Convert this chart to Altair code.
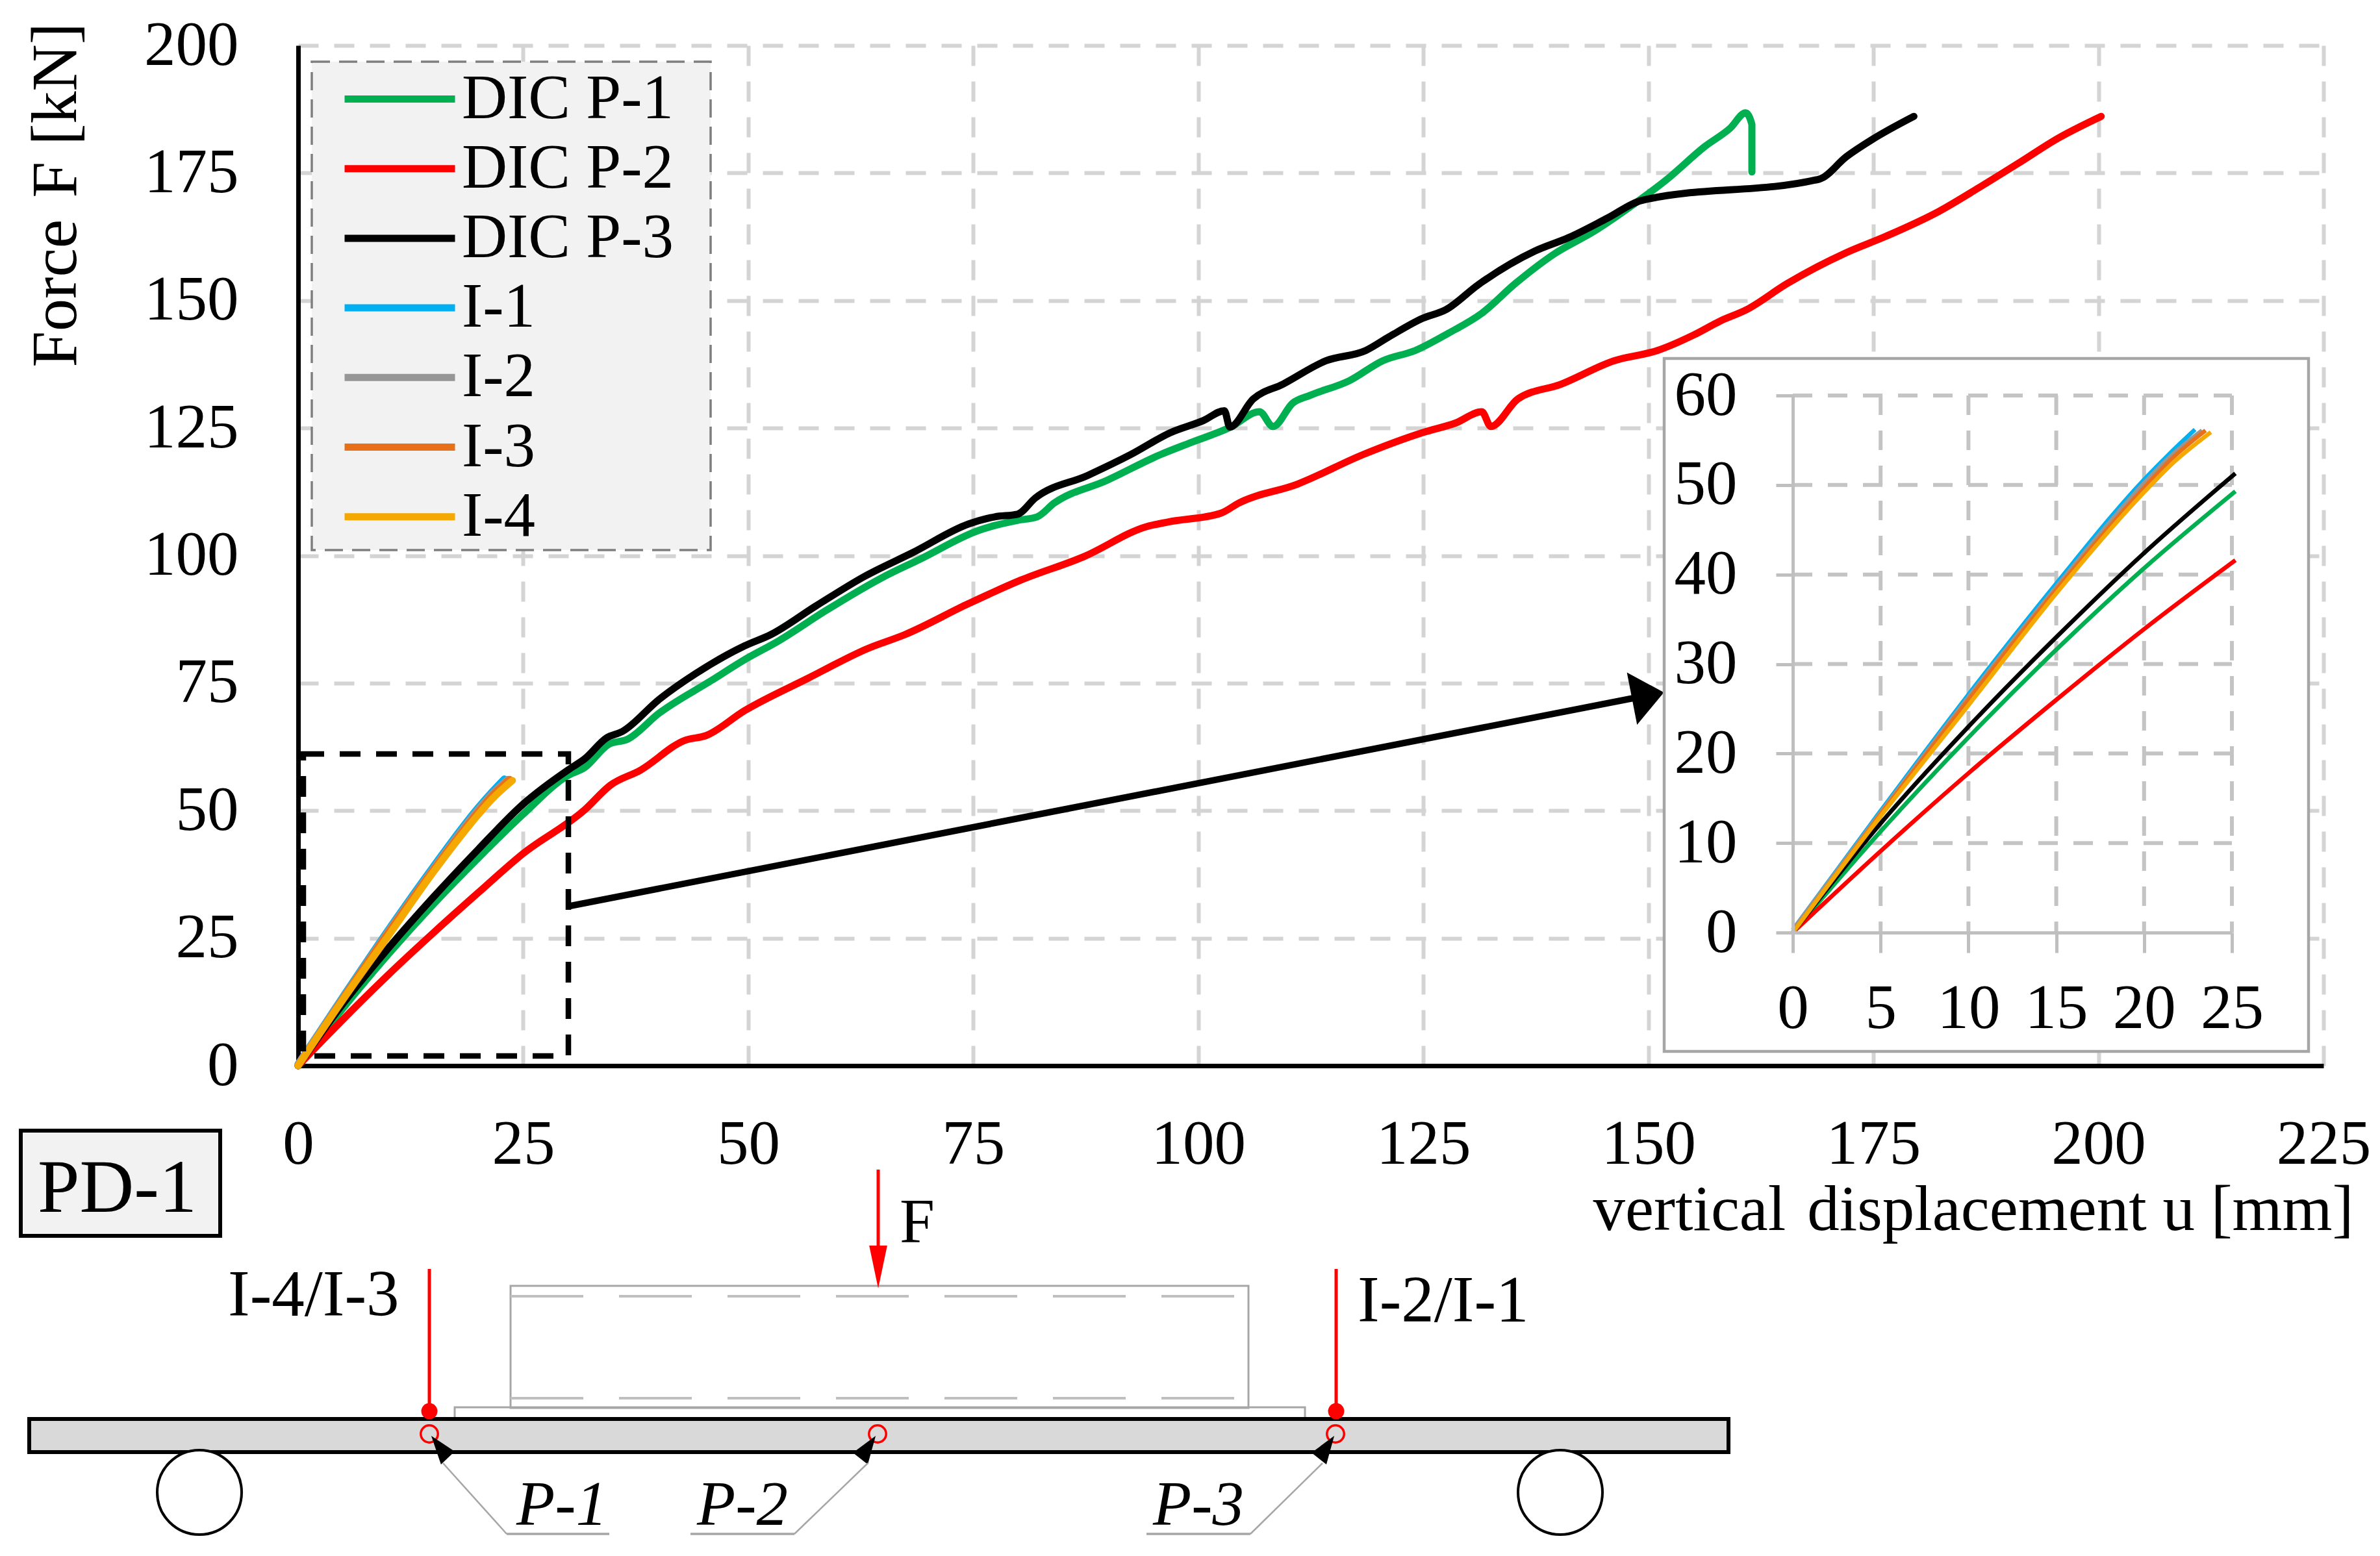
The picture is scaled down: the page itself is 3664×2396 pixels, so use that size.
import altair as alt
import pandas as pd

# ---------- chart values ----------
series = ["DIC P-1", "DIC P-2", "DIC P-3", "I-1", "I-2", "I-3", "I-4"]
colors = ["#00b050", "#ff0000", "#000000", "#00b0f0", "#969696", "#e8701a", "#f5a800"]

p1_x = [0, 5, 10, 15, 20, 25, 30, 31.8, 34.5, 36.6, 40.1, 45.9, 49.6, 53.4, 58.7, 64.9, 69.1, 75.7, 77.4, 79.9, 82.1, 84, 89.8, 95.8, 99.1, 103.5, 106.8, 108.3, 110.5, 112.4, 116.8, 120.5, 124.1, 127.8, 131.5, 135.2, 139.6, 144, 148.4, 152.1, 156.2, 159.1, 160.8, 161.5, 161.5]
p1_y = [0, 11.3, 21.8, 31.6, 40.7, 49.3, 56.9, 58.4, 63, 64, 69.1, 75.5, 79.6, 83.3, 89.3, 95.7, 99.3, 105, 105.9, 106.9, 107.6, 110.3, 114.7, 119.8, 122.1, 125.1, 128.2, 125.3, 129.9, 131.4, 134.3, 138.2, 140.2, 143.6, 147.5, 153.3, 159.2, 163.6, 168.9, 173.8, 180.1, 183.8, 186.8, 184.5, 175.2]
p2_x = [0, 5, 10, 15, 20, 25, 31.8, 34.7, 38, 43, 45.3, 49.6, 56.7, 63.3, 67.4, 74.5, 80.3, 87.3, 94.3, 96.7, 102.5, 104.5, 111, 118.3, 124.9, 128.6, 131.5, 132.5, 135.5, 140.3, 146.2, 151, 155.1, 158, 160.9, 165.4, 172, 176.4, 182.3, 186.7, 191.1, 195.5, 200.3]
p2_y = [0, 9.1, 17.8, 26, 33.9, 41.6, 50.1, 55, 57.9, 63.8, 64.7, 69.6, 76, 81.8, 84.5, 90.6, 95.2, 99.8, 105.7, 106.6, 108.3, 110.3, 114, 119.8, 124.1, 126, 128.2, 125.3, 130.7, 133.6, 138.2, 140.2, 143.3, 146, 148.2, 153.3, 159.4, 162.6, 167.5, 172.1, 176.9, 181.8, 186.1]
p3_x = [0, 5, 10, 15, 20, 25, 30, 31.8, 34.3, 36, 40.1, 44.2, 49.6, 52.5, 57.5, 62.9, 68.3, 74.5, 77.4, 79.9, 81.9, 87.7, 92.5, 96.9, 100.6, 102.9, 103.5, 106.1, 109.4, 114.2, 118.6, 121.2, 124.9, 127.5, 131.1, 137.4, 141.1, 145.5, 149.2, 169, 172, 174.9, 179.5]
p3_y = [0, 12.2, 23, 33, 42.4, 51.3, 58, 60.1, 64.3, 65.5, 71.8, 76.9, 82.3, 84.5, 90.1, 95.9, 100.6, 106.2, 107.6, 108.1, 111.3, 115.7, 119.8, 124.1, 126.5, 128.4, 125.2, 130.7, 133.6, 138.2, 140.2, 142.9, 146.5, 148.2, 153.1, 159.7, 162.3, 166.2, 169.6, 173.8, 178.2, 181.6, 186.1]
i1_x = [0, 5, 10, 15, 20, 21.5, 22.9]
i1_y = [0.3, 13.6, 26.6, 39, 50.6, 53.6, 56.2]
i2_x = [0, 5, 10, 15, 20, 21.5, 23.3]
i2_y = [0.3, 13.4, 26.3, 38.6, 50.2, 53.2, 56.1]
i3_x = [0, 5, 10, 15, 20, 21.5, 23.5]
i3_y = [0, 13.2, 26, 38.3, 49.7, 52.8, 56.1]
i4_x = [0, 5, 10, 15, 20, 21.5, 23.8]
i4_y = [0, 13, 25.4, 37.9, 49.2, 52.2, 55.9]

# inset readings (ends where the inset's lines stop)
ip1_x = [0, 5, 10, 15, 20, 25.2]
ip1_y = [0, 11.3, 21.8, 31.6, 40.7, 49.3]
ip2_x = [0, 5, 10, 15, 20, 25.2]
ip2_y = [0, 9.1, 17.8, 26, 33.9, 41.6]
ip3_x = [0, 5, 10, 15, 20, 25.2]
ip3_y = [0, 12.2, 23, 33, 42.4, 51.3]

main_ticks_x = list(range(0, 226, 25))
main_ticks_y = list(range(0, 201, 25))
inset_ticks_x = [0, 5, 10, 15, 20, 25]
inset_ticks_y = [0, 10, 20, 30, 40, 50, 60]

FONT = "Liberation Serif"
FS = 97

# ---------- frame in image pixels ----------
L, T, W, H = 459, 70, 3118, 1571
def px(v): return v - L
def py(v): return v - T

def table(groups):
    rows = []
    for name, xs, ys in groups:
        for i, (a, b) in enumerate(zip(xs, ys)):
            rows.append({"series": name, "x": a, "y": b, "ord": i})
    return pd.DataFrame(rows)

main_df = table(zip(series, [p1_x, p2_x, p3_x, i1_x, i2_x, i3_x, i4_x],
                    [p1_y, p2_y, p3_y, i1_y, i2_y, i3_y, i4_y]))
inset_df = table(zip(series, [ip1_x, ip2_x, ip3_x, i1_x, i2_x, i3_x, i4_x],
                     [ip1_y, ip2_y, ip3_y, i1_y, i2_y, i3_y, i4_y]))

def rule(x1, y1, x2, y2, color="#000000", w=5, dash=None):
    kw = dict(color=color, strokeWidth=w)
    if dash:
        kw["strokeDash"] = dash
    return alt.Chart().mark_rule(**kw).encode(
        x=alt.value(px(x1)), y=alt.value(py(y1)), x2=alt.value(px(x2)), y2=alt.value(py(y2)))

def box(x1, y1, x2, y2, fill=None, stroke=None, w=0, dash=None):
    kw = dict(strokeWidth=w)
    kw["fill"] = fill if fill else "transparent"
    if stroke:
        kw["stroke"] = stroke
    if dash:
        kw["strokeDash"] = dash
    return alt.Chart().mark_rect(**kw).encode(
        x=alt.value(px(x1)), y=alt.value(py(y1)), x2=alt.value(px(x2)), y2=alt.value(py(y2)))

def label(x, y, s, size=FS, style="normal"):
    return alt.Chart().mark_text(font=FONT, fontSize=size, fontStyle=style, color="#000000",
                                 align="left", baseline="alphabetic").encode(
        x=alt.value(px(x)), y=alt.value(py(y)), text=alt.value(s))

def dot(x, y, size, shape="circle", fill=None, stroke=None, w=0, angle=0):
    kw = dict(shape=shape, size=size, strokeWidth=w, opacity=1, angle=angle)
    kw["filled"] = bool(fill)
    if fill:
        kw["fill"] = fill
    if stroke:
        kw["stroke"] = stroke
    return alt.Chart().mark_point(**kw).encode(x=alt.value(px(x)), y=alt.value(py(y)))

color_enc = alt.Color("series:N", scale=alt.Scale(domain=series, range=colors), legend=alt.Legend(
    orient="none", legendX=px(567), legendY=py(104), title=None, symbolType="M-5,0L5,0",
    symbolSize=1156, symbolStrokeWidth=11, labelFont=FONT, labelFontSize=FS, labelColor="#000000",
    labelOffset=47, rowPadding=9.2, labelLimit=1000, padding=0))

main_lines = alt.Chart(main_df).mark_line(strokeWidth=11, strokeCap="round", strokeJoin="round",
                                          interpolate="monotone").encode(
    x=alt.X("x:Q", scale=alt.Scale(domain=[0, 225], nice=False, zero=False), axis=alt.Axis(
        values=main_ticks_x, title="vertical\u200a displacement u [mm]", titleFont=FONT, titleFontSize=99,
        titleFontWeight="normal", titleColor="#000000", titleX=px(2452), titleY=1893 - 1641,
        titleAlign="left", titleBaseline="alphabetic", titleAnchor=None,
        labelFont=FONT, labelFontSize=FS, labelColor="#000000", labelPadding=73, labelFlush=False,
        labelOverlap=False, ticks=False, domainColor="#000000", domainWidth=7, grid=True,
        gridColor="#d4d4d4", gridWidth=6, gridDash=[31, 24])),
    y=alt.Y("y:Q", scale=alt.Scale(domain=[0, 200], nice=False, zero=False), axis=alt.Axis(
        values=main_ticks_y, title="Force\u200a F [kN]", titleFont=FONT, titleFontSize=100,
        titleFontWeight="normal", titleColor="#000000", titleX=116 - L, titleY=py(565), titleAngle=270,
        titleAlign="left", titleBaseline="alphabetic",
        labelFont=FONT, labelFontSize=FS, labelColor="#000000", labelPadding=92, labelOverlap=False,
        ticks=False, domainColor="#000000", domainWidth=7, grid=True,
        gridColor="#d4d4d4", gridWidth=6, gridDash=[31, 24])),
    color=color_enc, order="ord:Q", detail="series:N")

# inset
ix_scale = alt.Scale(domain=[0, 25], range=[px(2760), px(3436)], nice=False, zero=False)
iy_scale = alt.Scale(domain=[0, 60], range=[py(1436), py(609)], nice=False, zero=False)
GRID_IN = "#c4c4c4"
inset_rows = alt.Chart(pd.DataFrame({"v": inset_ticks_y[1:]})).mark_rule(
    color=GRID_IN, strokeWidth=6, strokeDash=[30, 24]).encode(
    y=alt.Y("v:Q", scale=iy_scale, axis=None), x=alt.value(px(2760)), x2=alt.value(px(3436)))
inset_cols = alt.Chart(pd.DataFrame({"v": inset_ticks_x[1:]})).mark_rule(
    color=GRID_IN, strokeWidth=6, strokeDash=[30, 24]).encode(
    x=alt.X("v:Q", scale=ix_scale, axis=None), y=alt.value(py(609)), y2=alt.value(py(1436)))
inset_lines = alt.Chart(inset_df).mark_line(strokeWidth=6.5, strokeCap="butt", strokeJoin="round",
                                            interpolate="monotone").encode(
    x=alt.X("x:Q", scale=ix_scale, axis=alt.Axis(
        orient="bottom", offset=py(1436) - H, values=inset_ticks_x, title=None, zindex=1,
        labelFont=FONT, labelFontSize=FS, labelColor="#000000", labelPadding=38, labelFlush=False,
        labelOverlap=False, tickSize=31, tickWidth=5, tickColor="#bfbfbf", domainColor="#bfbfbf",
        domainWidth=5, grid=False)),
    y=alt.Y("y:Q", scale=iy_scale, axis=alt.Axis(
        orient="left", offset=-px(2760), values=inset_ticks_y, title=None, zindex=1,
        labelFont=FONT, labelFontSize=FS, labelColor="#000000", labelPadding=60, labelOverlap=False,
        tickSize=26, tickWidth=5, tickColor="#bfbfbf", domainColor="#bfbfbf", domainWidth=5, grid=False)),
    color=alt.Color("series:N", scale=alt.Scale(domain=series, range=colors), legend=None),
    order="ord:Q", detail="series:N")

RED = "#ff0000"
GREY = "#a6a6a6"
ARROW_HEAD = "M1,0L-1,-1.64L-1,1.64Z"
P1_HEAD = "M-.73,-1L.91,.09L-.05,1Z"
P2_HEAD = "M.73,-1L-.86,.18L.18,1Z"

layers = [
    box(480, 95, 1094, 847, fill="#f2f2f2", stroke="#7f7f7f", w=3.5, dash=[28, 14]),
    main_lines,
    # zoom frame and arrow
    box(467, 1161, 875, 1626, stroke="#000000", w=8.5, dash=[32, 24]),
    rule(878, 1395, 2525, 1073, w=10),
    dot(2537, 1071, 2500, shape=ARROW_HEAD, fill="#000000", angle=349),
    # inset
    box(2562, 552, 3554, 1619, fill="#ffffff", stroke=GREY, w=4.5),
    inset_rows, inset_cols, inset_lines,
    # diagram
    box(32, 1741, 339, 1903, fill="#f2f2f2", stroke="#000000", w=6),
    label(58, 1866, "PD-1", size=116),
    box(786, 1980, 1922, 2168, stroke=GREY, w=3),
    rule(786, 1996, 1922, 1996, color="#bfbfbf", w=4, dash=[112, 55]),
    rule(786, 2153, 1922, 2153, color="#bfbfbf", w=4, dash=[112, 55]),
    box(700, 2167, 2009, 2186, stroke=GREY, w=3),
    box(45, 2185, 2661, 2236, fill="#d9d9d9", stroke="#000000", w=6),
    dot(307, 2298, 16900, fill="#ffffff", stroke="#000000", w=4),
    dot(2402, 2298, 16900, fill="#ffffff", stroke="#000000", w=4),
    rule(1352, 1801, 1352, 1930, color=RED, w=5),
    dot(1352, 1951, 4356, shape="M0,1L-.42,-1L.42,-1Z", fill=RED),
    rule(661, 1954, 661, 2172, color=RED, w=5),
    rule(2057, 1954, 2057, 2172, color=RED, w=5),
    dot(661, 2173, 620, fill=RED),
    dot(2057, 2173, 620, fill=RED),
    dot(661, 2208, 700, stroke=RED, w=3.5),
    dot(1351, 2208, 700, stroke=RED, w=3.5),
    dot(2056, 2208, 700, stroke=RED, w=3.5),
    dot(680, 2233, 1936, shape=P1_HEAD, fill="#000000"),
    dot(1332, 2233, 1936, shape=P2_HEAD, fill="#000000"),
    dot(2038, 2233, 1936, shape=P2_HEAD, fill="#000000"),
    rule(682, 2253, 780, 2362, color=GREY, w=2.5),
    rule(780, 2362, 938, 2362, color=GREY, w=3.5),
    rule(1336, 2253, 1223, 2362, color=GREY, w=2.5),
    rule(1063, 2362, 1223, 2362, color=GREY, w=3.5),
    rule(2036, 2253, 1925, 2362, color=GREY, w=2.5),
    rule(1765, 2362, 1925, 2362, color=GREY, w=3.5),
    label(1385, 1913, "F"),
    label(351, 2026, "I-4/I-3", size=101),
    label(2090, 2035, "I-2/I-1", size=101),
    label(795, 2348, "P-1", style="italic"),
    label(1073, 2348, "P-2", style="italic"),
    label(1775, 2348, "P-3", style="italic"),
]

chart = alt.layer(*layers).resolve_scale(x="independent", y="independent").properties(
    width=W, height=H,
    padding={"left": L - 8, "top": T - 8, "right": 78, "bottom": 735},
    autosize=alt.AutoSizeParams(type="none"),
    background="#ffffff",
).configure_view(stroke=None)

chart.save("out.html", embed_options={"renderer": "svg", "actions": False})
